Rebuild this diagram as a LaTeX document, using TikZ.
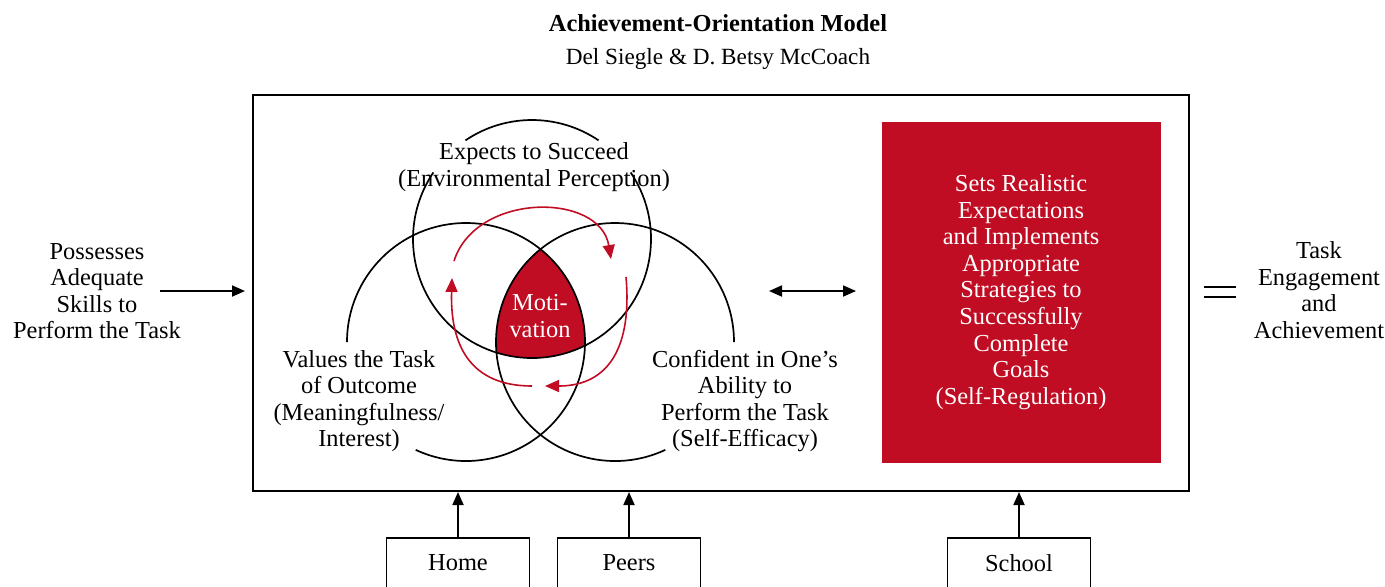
\documentclass[tikz,border=0pt]{standalone}
\usepackage{fontspec}
\setmainfont{Liberation Serif}
\usetikzlibrary{arrows.meta}
\definecolor{aored}{RGB}{192,13,35}
\begin{document}
\begin{tikzpicture}[x=0.5pt,y=-0.5pt,
  txt/.style={align=center,inner sep=0pt,font=\fontsize{12.2}{13.25}\selectfont},
  frame/.style={draw,line width=1pt,minimum width=468pt,minimum height=198pt,inner sep=0pt},
  srcbox/.style={draw,line width=0.8pt,minimum width=71.5pt,minimum height=25pt,inner sep=0pt,
    font=\fontsize{12.2}{13.25}\selectfont},
  venn/.style={line width=0.85pt},
  cycle/.style={aored,line width=0.8pt,-{Triangle[length=7pt,width=6pt]}},
  arr/.style={line width=0.9pt,-{Triangle[length=6.5pt,width=5.5pt]}},
  dblarr/.style={line width=0.9pt,{Triangle[length=6.5pt,width=5.5pt]}-{Triangle[length=6.5pt,width=5.5pt]}}]
\useasboundingbox (0,0) rectangle (1385,586);

% heading
\node[inner sep=0pt,font=\fontsize{12.2}{14}\selectfont\bfseries] (title) at (718,23) {Achievement-Orientation Model};
\node[inner sep=0pt,font=\fontsize{11.6}{14}\selectfont] (authors) at (718,59) {Del Siegle \& D. Betsy McCoach};

% outer frame
\node[frame] (frame) at (721,293) {};

% self-regulation block
\node[fill=aored,minimum width=139.5pt,minimum height=170.5pt,inner sep=0pt] (selfreg) at (1021.5,292.5) {};
\node[txt,text=white,font=\fontsize{12.2}{13.3}\selectfont] (selfregtxt) at (1021,292)
  {Sets Realistic\\Expectations\\and Implements\\Appropriate\\Strategies to\\Successfully\\Complete\\Goals\\(Self-Regulation)};

% three overlapping circles
\coordinate (ctop) at (532,239);
\coordinate (cleft) at (466,342);
\coordinate (cright) at (615,342);
\begin{scope}
  \clip (ctop) circle[radius=119];
  \clip (cleft) circle[radius=119];
  \fill[aored] (cright) circle[radius=119];
\end{scope}
% upper circle, left open beside the first line of its label
\draw[venn] (ctop) ++(-34:119) arc[start angle=-34,end angle=214,radius=119];
\draw[venn] (ctop) ++(236:119) arc[start angle=236,end angle=304,radius=119];
\draw[venn] (cleft) ++(180:119) arc[start angle=180,end angle=475,radius=119];
\draw[venn] (cright) ++(65:119) arc[start angle=65,end angle=360,radius=119];

% motivation cycle
\coordinate (cyA) at (454,261);
\coordinate (cyB) at (611,259);
\coordinate (cyC) at (626,277);
\coordinate (cyD) at (545,386);
\coordinate (cyE) at (532,386);
\coordinate (cyF) at (452,278);
\draw[cycle] (cyA) .. controls (476,192) and (600,192) .. (cyB);
\draw[cycle] (cyC) .. controls (632,345) and (610,386) .. (cyD);
\draw[cycle] (cyE) .. controls (470,386) and (450,345) .. (cyF);

% labels of the circles
\node[txt,text=white] (motiv) at (540,316) {Moti-\\vation};
\node[txt] (expects) at (534,167) {Expects to Succeed\\(Environmental Perception)};
\node[txt] (values) at (359,401) {Values the Task\\of Outcome\\(Meaningfulness/\\Interest)};
\node[txt] (confident) at (745,401) {Confident in One’s\\Ability to\\Perform the Task\\(Self-Efficacy)};

% input and outcome
\node[txt] (skills) at (97,291) {Possesses\\Adequate\\Skills to\\Perform the Task};
\coordinate (skillsout) at (160,291);
\coordinate (skillsin) at (245,291);
\draw[arr] (skillsout) -- (skillsin);

\coordinate (linkL) at (769,291);
\coordinate (linkR) at (856,291);
\draw[dblarr] (linkL) -- (linkR);

\coordinate (eqA) at (1204,287);
\coordinate (eqB) at (1236,287);
\coordinate (eqC) at (1204,297);
\coordinate (eqD) at (1236,297);
\draw[line width=1pt] (eqA) -- (eqB) (eqC) -- (eqD);

\node[txt] (outcome) at (1319,290) {Task\\Engagement\\and\\Achievement};

% environments
\node[srcbox] (home) at (458,563) {Home};
\node[srcbox] (peers) at (629,563) {Peers};
\node[srcbox] (school) at (1019,563) {School};
\draw[arr] (home) -- (home |- frame.south);
\draw[arr] (peers) -- (peers |- frame.south);
\draw[arr] (school) -- (school |- frame.south);
\end{tikzpicture}
\end{document}
